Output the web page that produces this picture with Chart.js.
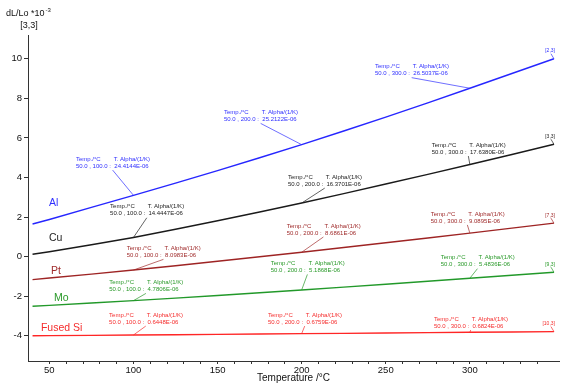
<!DOCTYPE html>
<html>
<head>
<meta charset="utf-8">
<script src="https://cdn.jsdelivr.net/npm/chart.js@4.4.1/dist/chart.umd.min.js"></script>
<style>
  html, body { margin: 0; padding: 0; background: #fff; }
  #wrap { width: 569px; height: 390px; position: relative; }
</style>
</head>
<body>
<div id="wrap"><canvas id="myChart"></canvas></div>
<script>
// data (dL/Lo in 1e-3)
const temps = [40, 50, 75, 100, 125, 150, 175, 200, 225, 250, 275, 300, 325, 350];
const alValues = [1.65, 1.88, 2.49, 3.10, 3.72, 4.35, 5.00, 5.66, 6.35, 7.055, 7.775, 8.51, 9.255, 10.0];
const cuValues = [0.12, 0.25, 0.60, 0.97, 1.385, 1.815, 2.255, 2.71, 3.185, 3.67, 4.16, 4.66, 5.165, 5.68];
const ptValues = [-1.16, -1.08, -0.88, -0.675, -0.455, -0.232, -0.006, 0.223, 0.461, 0.701, 0.945, 1.192, 1.442, 1.694];
const moValues = [-2.505, -2.46, -2.343, -2.221, -2.091, -1.958, -1.822, -1.682, -1.538, -1.391, -1.242, -1.089, -0.937, -0.783];
const siValues = [-3.996, -3.99, -3.974, -3.958, -3.941, -3.924, -3.906, -3.889, -3.872, -3.854, -3.837, -3.819, -3.802, -3.785];

const seriesNames = ['Al', 'Cu', 'Pt', 'Mo', 'Fused Si'];
const seriesTags = ['[2,3]', '[3,3]', '[7,3]', '[9,3]', '[10,3]'];

// mean expansion coefficient 50.0 -> T, in 1e-6 /K
const alphaTemps = [100, 200, 300];
const alAlpha = [24.4144, 25.2122, 26.5037];
const cuAlpha = [14.4447, 16.3701, 17.6380];
const ptAlpha = [8.0983, 8.6861, 9.0895];
const moAlpha = [4.7806, 5.1868, 5.4836];
const siAlpha = [0.6448, 0.6759, 0.6824];

const xTicks = [50, 100, 150, 200, 250, 300, 350];
const yTicks = [-4, -2, 0, 2, 4, 6, 8, 10];

// where the note boxes and names sit (data coords)
const notePos = [
  [[65.8, 4.93], [153.8, 7.29], [243.6, 9.60]],
  [[86.1, 2.52], [191.9, 4.02], [277.3, 5.64]],
  [[96.0, 0.42], [191.1, 1.55], [276.7, 2.16]],
  [[85.6, -1.30], [181.6, -0.34], [282.7, -0.05]],
  [[85.5, -2.95], [180.0, -2.95], [278.7, -3.15]]
];
const namePos = [[49.8, 2.71], [49.8, 0.94], [51.0, -0.73], [52.8, -2.09], [45.0, -3.61]];

const lineColors = ['#2626ff', '#1a1a1a', '#9e2424', '#22992a', '#ff2626'];
const textColors = ['#3030ff', '#222222', '#a02c2c', '#2a9a2a', '#f52c2c'];
const allValues = [alValues, cuValues, ptValues, moValues, siValues];
const allAlpha = [alAlpha, cuAlpha, ptAlpha, moAlpha, siAlpha];

const FONT = '"Liberation Sans", Arial, sans-serif';

const notesPlugin = {
  id: 'notes',
  afterDatasetsDraw(chart) {
    const ctx = chart.ctx;
    const xs = chart.scales.x, ys = chart.scales.y;
    ctx.save();
    allValues.forEach((vals, si) => {
      const meta = chart.getDatasetMeta(si);
      ctx.fillStyle = textColors[si];
      ctx.strokeStyle = textColors[si];
      ctx.lineWidth = 0.7;
      ctx.textBaseline = 'middle';

      // alpha notes with leader lines
      alphaTemps.forEach((t, k) => {
        const pt = meta.data[temps.indexOf(t)];
        const x0 = xs.getPixelForValue(notePos[si][k][0]);
        const y0 = ys.getPixelForValue(notePos[si][k][1]);
        ctx.font = '6px ' + FONT;
        ctx.textAlign = 'left';
        const head = '50.0 , ' + t.toFixed(1) + ' : ';
        const colX = x0 + ctx.measureText(head).width + 1;
        ctx.fillText('Temp./°C', x0, y0);
        ctx.fillText('T. Alpha/(1/K)', colX, y0);
        ctx.fillText(head + ' ' + allAlpha[si][k].toFixed(4) + 'E-06', x0, y0 + 7);
        ctx.beginPath();
        ctx.moveTo(colX - 1, y0 + 11);
        ctx.lineTo(pt.x, pt.y);
        ctx.stroke();
      });

      // tag at the end of each curve
      const last = meta.data[meta.data.length - 1];
      ctx.font = '5px ' + FONT;
      ctx.textAlign = 'right';
      ctx.fillText(seriesTags[si], last.x + 1, last.y - 8);
      ctx.beginPath();
      ctx.moveTo(last.x - 3, last.y - 5);
      ctx.lineTo(last.x, last.y);
      ctx.stroke();

      // series name
      ctx.font = '10.5px ' + FONT;
      ctx.textAlign = 'left';
      ctx.fillText(seriesNames[si], xs.getPixelForValue(namePos[si][0]), ys.getPixelForValue(namePos[si][1]));
    });

    // y axis caption
    ctx.fillStyle = '#111';
    ctx.textBaseline = 'middle';
    ctx.textAlign = 'left';
    ctx.font = '9px ' + FONT;
    ctx.fillText('dL/Lo *10', 6, 14);
    const w = ctx.measureText('dL/Lo *10').width;
    ctx.font = '6px ' + FONT;
    ctx.fillText('-3', 6 + w + 1, 10);
    ctx.font = '9px ' + FONT;
    ctx.textAlign = 'center';
    ctx.fillText('[3,3]', 29, 26);
    ctx.restore();
  }
};

const ctx = document.getElementById('myChart');
const myChart = new Chart(ctx, {
  type: 'line',
  data: {
    datasets: allValues.map((vals, i) => ({
      label: seriesNames[i],
      data: temps.map((t, j) => ({ x: t, y: vals[j] })),
      borderColor: lineColors[i],
      borderWidth: 1.4,
      pointRadius: 0,
      fill: false,
      tension: 0
    }))
  },
  options: {
    responsive: true,
    maintainAspectRatio: false,
    animation: false,
    events: [],
    layout: { padding: { top: 35, right: 10, bottom: 0, left: 0 } },
    plugins: { legend: { display: false }, tooltip: { enabled: false } },
    scales: {
      x: {
        type: 'linear',
        min: 37.3,
        max: 353,
        afterBuildTicks: s => { s.ticks = s.ticks.filter(t => t.value % 10 === 0); },
        afterFit: s => { s.height = 29; s.paddingLeft = 0; s.paddingRight = 0; },
        ticks: {
          stepSize: 10,
          autoSkip: false,
          maxRotation: 0,
          padding: 1,
          color: '#111',
          font: { family: FONT, size: 9.5 },
          callback: v => xTicks.includes(v) ? String(v) : ''
        },
        grid: { drawOnChartArea: false, tickLength: 3, color: '#333' },
        border: { color: '#333', width: 1 },
        title: {
          display: true,
          text: 'Temperature /°C',
          color: '#111',
          font: { family: FONT, size: 10 },
          padding: { top: 0, bottom: 6 }
        }
      },
      y: {
        type: 'linear',
        min: -5.27,
        max: 11.2,
        afterBuildTicks: s => { s.ticks = s.ticks.filter(t => yTicks.includes(t.value)); },
        afterFit: s => { s.width = 28; s.paddingTop = 0; s.paddingBottom = 0; },
        ticks: {
          stepSize: 2,
          padding: 2,
          color: '#111',
          font: { family: FONT, size: 9.5 }
        },
        grid: { drawOnChartArea: false, tickLength: 4, color: '#333' },
        border: { color: '#333', width: 1 }
      }
    }
  },
  plugins: [notesPlugin]
});
</script>
</body>
</html>
